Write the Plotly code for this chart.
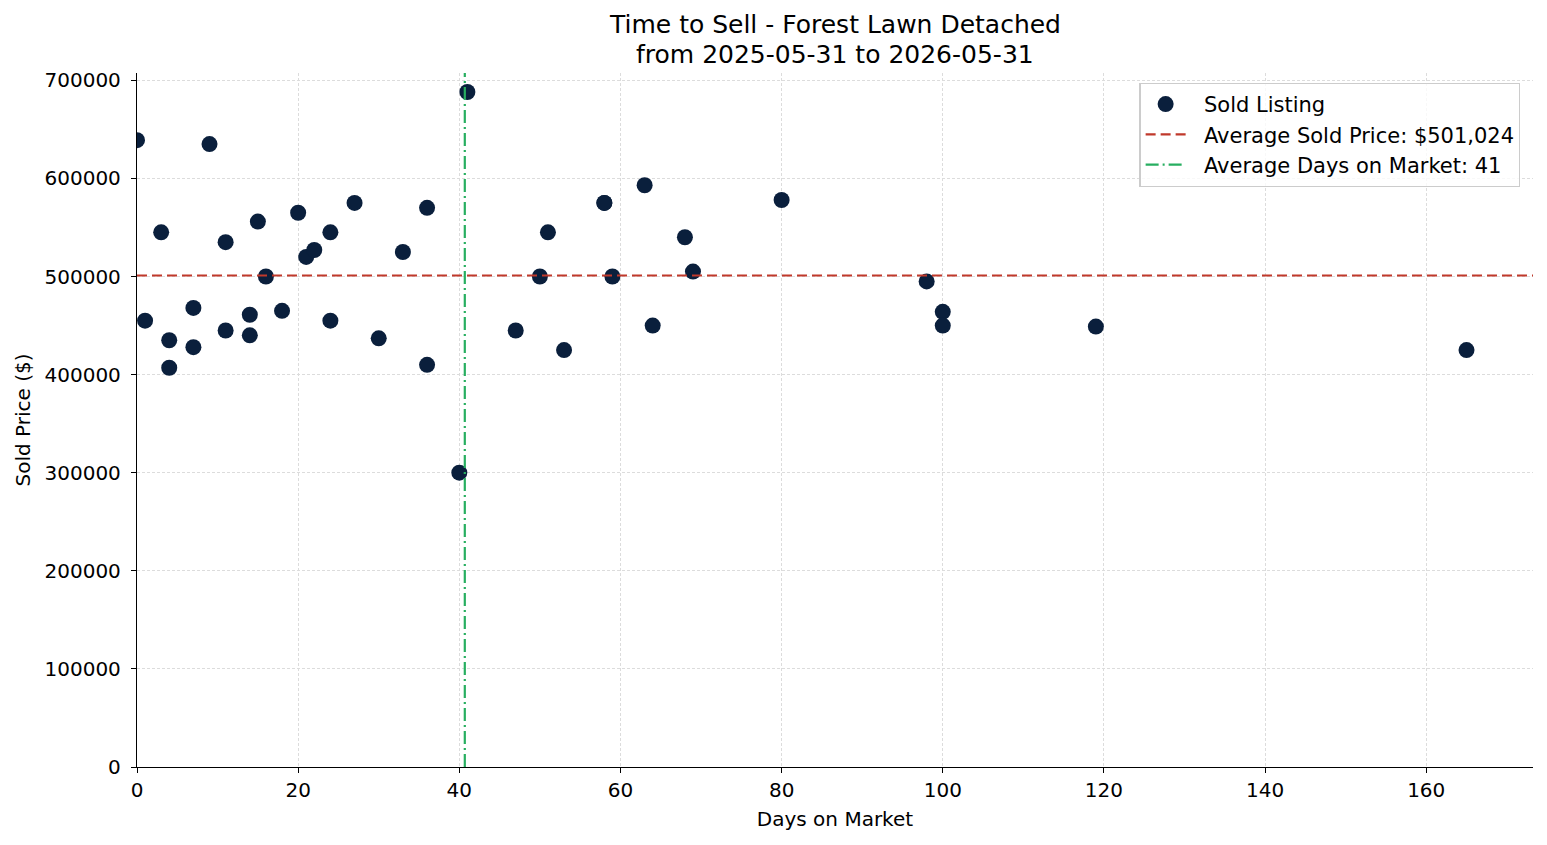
import plotly.graph_objects as go

days = [0, 1, 3, 4, 4, 7, 7, 9, 11, 11, 14, 14, 15, 16, 18, 20, 21, 22, 24, 24,
        27, 30, 33, 36, 36, 40, 41, 47, 50, 51, 53, 58, 58, 59, 63, 64, 68, 69,
        80, 98, 100, 100, 119, 165]
prices = [639000, 455000, 545000, 435000, 407000, 468000, 428000, 635000, 535000, 445000,
          461000, 440000, 556000, 500000, 465000, 565000, 520000, 527000, 545000, 455000,
          575000, 437000, 525000, 570000, 410000, 300000, 688056, 445000, 500000, 545000,
          425000, 575000, 575000, 500000, 593000, 450000, 540000, 505000, 578000, 495000,
          464000, 450000, 449000, 425000]

x_ticks = [0, 20, 40, 60, 80, 100, 120, 140, 160]
y_ticks = [0, 100000, 200000, 300000, 400000, 500000, 600000, 700000]

title_lines = ["Time to Sell - Forest Lawn Detached", "from 2025-05-31 to 2026-05-31"]

avg_price = sum(prices) / len(prices)
avg_days = sum(days) / len(days)

x_max = max(days) * 1.05
y_max = max(prices) + 0.05 * (max(prices) - min(prices))

font = "DejaVu Sans"
FS = 20
PAD = "\u00a0\u00a0"

fig = go.Figure()
fig.add_trace(go.Scatter(
    x=days, y=prices, mode="markers", name=PAD + "Sold Listing",
    marker=dict(size=16, color="#0a1f3c", line=dict(width=0)),
))
fig.add_trace(go.Scatter(
    x=[0, x_max], y=[avg_price, avg_price], mode="lines",
    name=PAD + f"Average Sold Price: ${avg_price:,.0f}",
    line=dict(color="#c0392b", width=2.2, dash="10px,5px"),
))
fig.add_trace(go.Scatter(
    x=[avg_days, avg_days], y=[0, y_max], mode="lines",
    name=PAD + f"Average Days on Market: {avg_days:.0f}",
    line=dict(color="#27ae60", width=2.2, dash="13px,4px,2px,4px"),
))

plot_h = 845 - 73 - 78
annotations = []
for line, yc in zip(title_lines, [25, 54]):
    annotations.append(dict(
        text=line, x=0.5, xref="paper", xanchor="center",
        y=1 + (73 - yc) / plot_h, yref="paper", yanchor="middle",
        showarrow=False, font=dict(family=font, size=25, color="black"),
    ))

fig.update_layout(
    width=1547, height=845,
    margin=dict(l=137, r=14, t=73, b=78),
    paper_bgcolor="white", plot_bgcolor="white",
    font=dict(family=font, size=FS, color="black"),
    showlegend=True,
    legend=dict(
        x=0.991, y=0.986, xanchor="right", yanchor="top",
        bgcolor="rgba(255,255,255,0.8)", bordercolor="#cccccc", borderwidth=1.2,
        font=dict(family=font, size=21, color="black"),
        itemwidth=40,
    ),
    annotations=annotations,
)
fig.update_xaxes(
    range=[0, x_max], tickvals=x_ticks, ticks="outside", ticklen=5, tickwidth=1.2,
    tickcolor="black", showline=True, linecolor="black", linewidth=1.3, mirror=False,
    showgrid=True, gridcolor="#dcdcdc", griddash="3px,2px", gridwidth=0.8,
    zeroline=False, title=dict(text="Days on Market", font=dict(size=FS), standoff=10),
    tickfont=dict(size=FS),
)
fig.update_yaxes(
    range=[0, y_max], tickvals=y_ticks, tickformat="d", ticks="outside", ticklen=5,
    tickwidth=1.2, tickcolor="black", showline=True, linecolor="black", linewidth=1.3,
    mirror=False, showgrid=True, gridcolor="#dcdcdc", griddash="3px,2px", gridwidth=0.8,
    zeroline=False, title=dict(text="Sold Price ($)", font=dict(size=FS), standoff=8),
    tickfont=dict(size=FS), ticklabelstandoff=6,
)

fig.write_html("out.html")
